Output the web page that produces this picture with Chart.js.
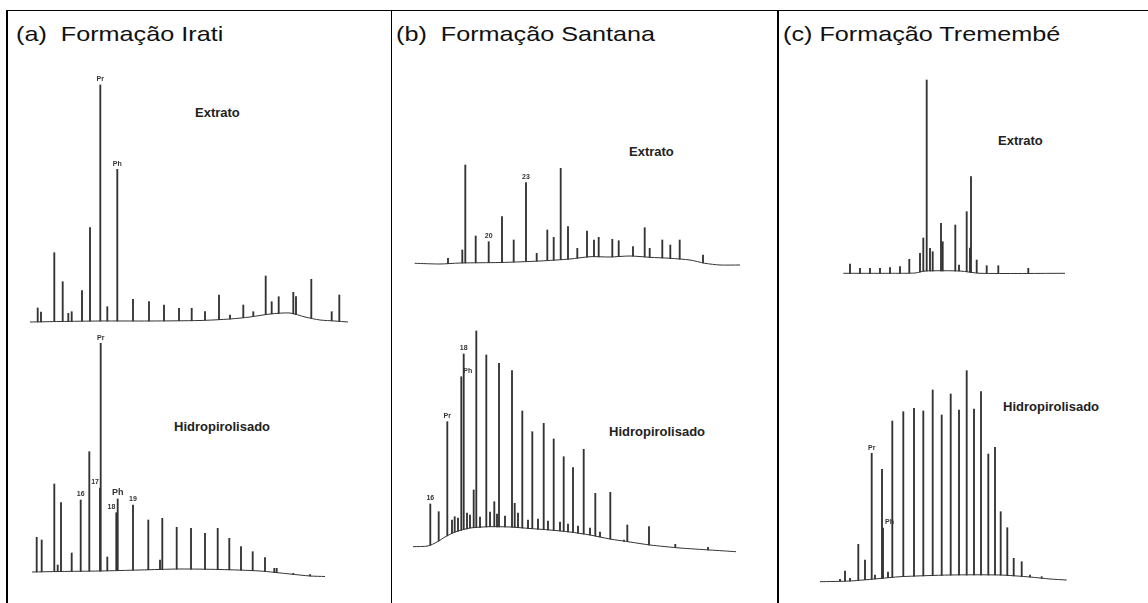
<!DOCTYPE html>
<html>
<head>
<meta charset="utf-8">
<script src="https://cdn.jsdelivr.net/npm/chart.js@4.4.0/dist/chart.umd.min.js"></script>
<style>
  body { margin: 0; background: #fff; width: 1148px; height: 603px; position: relative; overflow: hidden; font-family: 'Liberation Sans', Arial, sans-serif; }
  .rule { position: absolute; background: #000; }
  .title { position: absolute; top: 23px; font-size: 21px; line-height: 21px; color: #111; white-space: nowrap; transform-origin: left top; transform: scaleX(1.2); }
  .series { position: absolute; font-size: 13px; line-height: 13px; font-weight: bold; color: #222; white-space: nowrap; }
  .trace { position: absolute; }
</style>
</head>
<body>
<div class="rule" style="left:6px; top:10px; width:1142px; height:1px;"></div>
<div class="rule" style="left:6px; top:10px; width:2px; height:593px;"></div>
<div class="rule" style="left:391px; top:10px; width:1px; height:593px;"></div>
<div class="rule" style="left:777px; top:10px; width:2px; height:593px;"></div>

<div class="title" style="left:16px;">(a)&nbsp; Formação Irati</div>
<div class="title" style="left:396px;">(b)&nbsp; Formação Santana</div>
<div class="title" style="left:783px;">(c) Formação Tremembé</div>

<div class="series" style="left:195px; top:106px;">Extrato</div>
<div class="series" style="left:174px; top:420px;">Hidropirolisado</div>
<div class="series" style="left:629px; top:145px;">Extrato</div>
<div class="series" style="left:609px; top:425px;">Hidropirolisado</div>
<div class="series" style="left:998px; top:134px;">Extrato</div>
<div class="series" style="left:1003px; top:400px;">Hidropirolisado</div>

<canvas class="trace" id="iratiExt" width="340" height="270" style="left:20px; top:60px;"></canvas>
<canvas class="trace" id="iratiHid" width="340" height="260" style="left:20px; top:330px;"></canvas>
<canvas class="trace" id="santanaExt" width="360" height="220" style="left:400px; top:60px;"></canvas>
<canvas class="trace" id="santanaHid" width="360" height="260" style="left:400px; top:300px;"></canvas>
<canvas class="trace" id="tremembeExt" width="340" height="230" style="left:790px; top:60px;"></canvas>
<canvas class="trace" id="tremembeHid" width="340" height="250" style="left:790px; top:340px;"></canvas>

<script>
// retention time (min) vs detector response

// (a) Irati - extrato
const iratiExtBase = [[2, 4], [8, 4.25], [16, 4.5], [26, 4.5], [36, 4.75], [42, 5.5], [46, 6.5], [50, 8], [54, 8.5], [57, 6.5], [60, 5], [63, 4.5], [65.6, 4]];
const iratiExtPeaks = [
  [3.54, 11], [4.2, 9], [6.86, 38.65], [8.54, 24.15], [9.66, 8.35], [10.34, 9.15], [12.4, 19.65], [14, 51.15],
  [16.06, 122.5], [17.46, 11.65], [19.46, 80.35], [22.6, 15.35], [25.8, 14.15], [28.8, 12.5], [31.8, 10.85],
  [34.34, 10.85], [37, 9.15], [39.8, 17.5], [42, 7.5], [44.66, 12.5], [46.66, 9.15], [49.14, 27], [50.34, 14.15],
  [51.74, 16.65], [54.66, 18.85], [55.2, 16.65], [58.26, 25.35], [62.34, 9.15], [63.86, 17.5]
];
const iratiExtLabels = [['Pr', 16.06, 'center'], ['Ph', 19.46, 'center']];

// (a) Irati - hidropirolisado
const iratiHidBase = [[2.4, 9], [8, 9.25], [16, 9.5], [24, 10], [32, 10.5], [40, 10.25], [48, 9.5], [54, 8], [58, 7], [61, 6.75]];
const iratiHidPeaks = [
  [3.34, 26.35], [4.34, 25], [6.86, 53], [7.54, 12.5], [8.2, 43.65], [10.34, 18.5], [12.14, 45], [13.86, 69.15],
  [16, 51], [16.14, 123.35], [17.46, 16.5], [19.26, 38.65], [19.54, 45.5], [22.6, 42.5], [25.66, 35], [28, 15],
  [28.46, 35.85], [31.34, 31.35], [34.2, 30.85], [37, 28.35], [39.54, 30.85], [41.86, 25.85], [44.2, 21.65],
  [46.54, 19.15], [49, 16.15], [50.86, 10.85], [51.34, 10.85], [54.66, 8.35], [58, 7.65]
];
const iratiHidLabels = [['16', 12.14, 'center'], ['17', 16, 'right'], ['Pr', 16.14, 'center'], ['18', 19.26, 'right'], ['Ph', 19.54, 'center'], ['19', 22.6, 'center']];

// (b) Santana - extrato
const santanaExtBase = [[2.94, 8.35], [8, 8], [12, 8.5], [20, 8.75], [28, 9.5], [34, 10.5], [38, 11.65], [42, 11.5], [46, 12], [50, 11.35], [54, 10.85], [58, 10], [61, 8.35], [64, 7.5], [68, 7.5]];
const santanaExtPeaks = [
  [9.6, 10.85], [12.46, 15], [13.06, 57.5], [15.14, 22], [17.74, 19.15], [20.4, 31.65], [22.74, 20], [25.2, 48.65],
  [27.34, 13.35], [29.46, 25], [30.74, 21.35], [32.14, 55.85], [33.6, 26.65], [35.46, 15.85], [37.4, 24.5],
  [38.8, 20], [39.74, 21.35], [42.46, 20.35], [43.74, 19.65], [46.6, 16.65], [48.94, 26.15], [49.94, 15.85],
  [52.46, 20], [54.06, 17.5], [55.94, 20], [60.6, 12.5]
];
const santanaExtLabels = [['20', 17.74, 'center'], ['23', 25.2, 'center']];

// (b) Santana - hidropirolisado
const santanaHidBase = [[2.6, 6.65], [5.6, 7], [7.4, 9], [9, 11.5], [11, 14], [14, 16], [18, 16.65], [22, 16.5], [26, 15.75], [30, 15], [34, 14], [38, 12.5], [42, 10.5], [46, 9], [50, 7.5], [56, 6], [62, 5], [67.2, 4.15]];
const santanaHidPeaks = [
  [6.06, 28], [7.74, 24.15], [9.46, 69.15], [10.4, 20], [10.94, 21.65], [11.6, 21], [12.26, 91.65], [12.74, 103],
  [13.4, 23.5], [14, 22.5], [14.74, 35], [15.26, 114.5], [16, 21.5], [17.26, 102.5], [18, 24], [18.86, 29.15],
  [19.4, 23], [19.8, 98.35], [21, 22], [22.4, 94.65], [22.94, 28.35], [23.6, 23.5], [24.46, 74.5], [25.6, 20],
  [26.46, 64.15], [27.6, 20.5], [28.74, 68.35], [29.6, 19.5], [30.74, 60.5], [32, 19], [32.74, 51.65], [33.6, 18],
  [34.6, 46.15], [35.6, 17], [36.74, 55.35], [38, 16], [39.06, 33.35], [40, 14], [42.06, 33.85], [44.8, 10],
  [45.46, 17.5], [49.8, 16.65], [55.06, 7.85], [61.6, 6.35]
];
const santanaHidLabels = [['16', 6.06, 'center'], ['Pr', 9.46, 'center'], ['Ph', 12.26, 'left'], ['18', 12.74, 'center']];

// (c) Tremembe - extrato
const tremembeExtBase = [[10.66, 8.35], [20, 8.35], [25, 8.5], [27, 9.5], [34, 9.5], [38, 8.35], [55, 8.35]];
const tremembeExtPeaks = [
  [12, 13], [14, 10.85], [16, 10.85], [18, 10.85], [20, 11.15], [22, 11.65], [23.86, 15.35], [26, 18.35],
  [26.66, 26], [27.34, 105], [28, 20.85], [28.54, 19.15], [30.2, 33.35], [30.54, 24.15], [33.06, 32.5], [33.8, 12.5],
  [35.34, 39.15], [36, 21], [36.2, 56.65], [37.34, 15], [39.34, 12.15], [41.66, 12.15], [47.66, 10.85]
];
const tremembeExtLabels = [];

// (c) Tremembe - hidropirolisado
const tremembeHidBase = [[6, 4.15], [12, 4.5], [18, 5.75], [22, 6.65], [32, 7.5], [42, 7.5], [48, 6.5], [52, 5.5], [55.34, 5]];
const tremembeHidPeaks = [
  [10, 5.35], [11, 9.5], [12, 5.85], [13.66, 22.85], [15, 15], [16.34, 68.35], [17, 7.5], [18.4, 60.35], [18.6, 31],
  [19.6, 9], [20.46, 84.5], [22.66, 89.15], [24.8, 90.85], [26.66, 89.5], [28.54, 100], [30.34, 87.5], [32.14, 98],
  [33.8, 90], [35.34, 109.65], [36.8, 90.5], [38.2, 99.15], [39.66, 68], [41, 71.35], [42.14, 39.15], [43.46, 31.15],
  [44.74, 15.85], [46.34, 14.15], [48, 7.5], [50.34, 6.65]
];
const tremembeHidLabels = [['Pr', 16.34, 'center'], ['Ph', 18.6, 'left']];

const ink = '#333';

function baseAt(base, t) {
  if (t <= base[0][0]) return base[0][1];
  for (let i = 1; i < base.length; i++) {
    if (t <= base[i][0]) {
      const [t0, y0] = base[i - 1], [t1, y1] = base[i];
      return y0 + (y1 - y0) * (t - t0) / (t1 - t0);
    }
  }
  return base[base.length - 1][1];
}

const peakLabels = {
  id: 'peakLabels',
  afterDatasetsDraw(chart, args, opts) {
    const { ctx, scales: { x, y } } = chart;
    ctx.save();
    ctx.fillStyle = '#333';
    ctx.textBaseline = 'bottom';
    opts.items.forEach(([text, t, align]) => {
      const peak = opts.peaks.find(p => p[0] === t);
      const px = x.getPixelForValue(t);
      const py = y.getPixelForValue(peak[1]);
      ctx.font = text === 'Ph' && opts.bigPh ? 'bold 9px Arial' : 'bold 7px Arial';
      ctx.textAlign = align;
      const dx = align === 'right' ? -1 : align === 'left' ? 2 : 0;
      ctx.fillText(text, px + dx, py - 2);
    });
    ctx.restore();
  }
};

function drawTrace(id, base, peaks, labels, xMax, yMax, bigPh) {
  new Chart(document.getElementById(id), {
    type: 'bar',
    data: {
      datasets: [
        {
          type: 'line',
          data: base.map(([t, v]) => ({ x: t, y: v })),
          borderColor: ink,
          borderWidth: 1,
          pointRadius: 0,
          tension: 0.25
        },
        {
          type: 'bar',
          data: peaks.map(([t, v]) => ({ x: t, y: [baseAt(base, t), v] })),
          backgroundColor: ink,
          barThickness: 1.2,
          grouped: false
        }
      ]
    },
    options: {
      responsive: false,
      animation: false,
      layout: { padding: 0 },
      plugins: {
        legend: { display: false },
        tooltip: { enabled: false },
        peakLabels: { items: labels, peaks: peaks, bigPh: bigPh }
      },
      scales: {
        x: { type: 'linear', min: 0, max: xMax, display: false, offset: false },
        y: { type: 'linear', min: 0, max: yMax, display: false }
      }
    },
    plugins: [peakLabels]
  });
}

drawTrace('iratiExt', iratiExtBase, iratiExtPeaks, iratiExtLabels, 68, 135, false);
drawTrace('iratiHid', iratiHidBase, iratiHidPeaks, iratiHidLabels, 68, 130, true);
drawTrace('santanaExt', santanaExtBase, santanaExtPeaks, santanaExtLabels, 72, 110, false);
drawTrace('santanaHid', santanaHidBase, santanaHidPeaks, santanaHidLabels, 72, 130, false);
drawTrace('tremembeExt', tremembeExtBase, tremembeExtPeaks, tremembeExtLabels, 68, 115, false);
drawTrace('tremembeHid', tremembeHidBase, tremembeHidPeaks, tremembeHidLabels, 68, 125, false);
</script>
</body>
</html>
